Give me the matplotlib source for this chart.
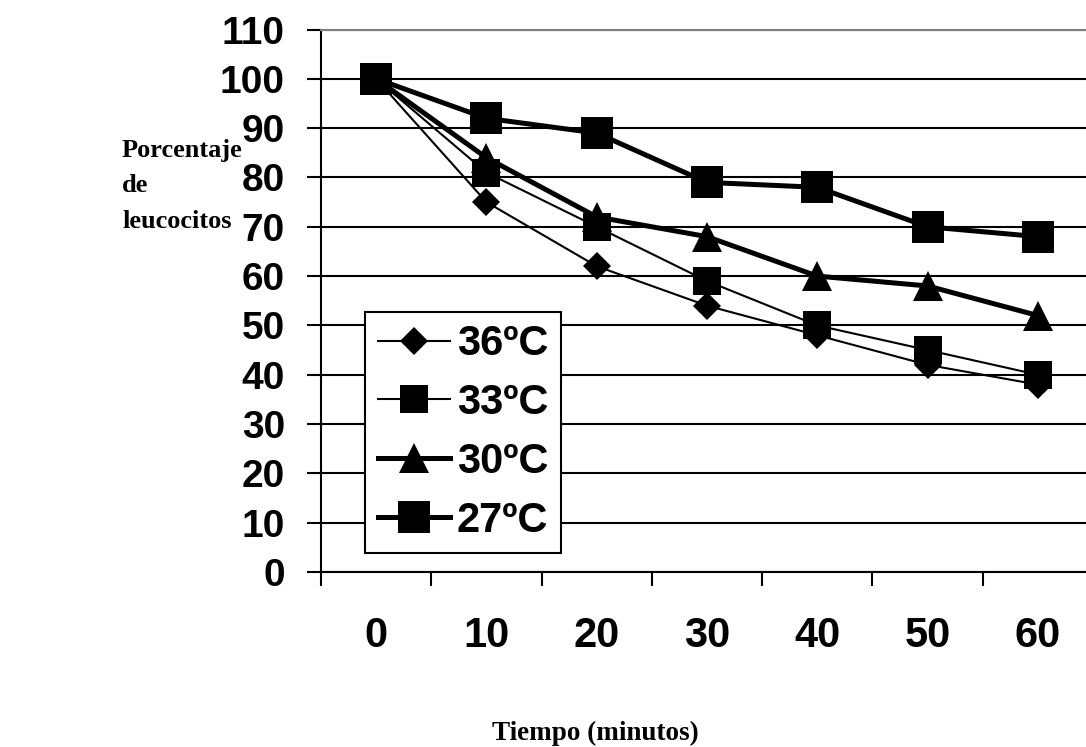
import matplotlib
matplotlib.use("Agg")
import matplotlib.pyplot as plt
import numpy as np

categories = ["0", "10", "20", "30", "40", "50", "60"]
s36 = [100, 75, 62, 54, 48, 42, 38]
s33 = [100, 81, 70, 59, 50, 45, 40]
s30 = [100, 84, 72, 68, 60, 58, 52]
s27 = [100, 92, 89, 79, 78, 70, 68]
labels = ["36ºC", "33ºC", "30ºC", "27ºC"]
yticks = list(range(0, 111, 10))

W, H = 1086, 747
fig = plt.figure(figsize=(W / 100, H / 100), dpi=100)
ax = fig.add_axes([321 / W, 1 - 572 / H, (1093 - 321) / W, (572 - 29.5) / H])

x = np.arange(len(categories))
series = [s36, s33, s30, s27]
styles = [
    dict(marker="D", lw=1.5, ms=14.5),
    dict(marker="s", lw=1.5, ms=20),
    dict(marker="^", lw=3.6, ms=21.5),
    dict(marker="s", lw=3.6, ms=23),
]
for vals, lab, st in zip(series, labels, styles):
    ax.plot(x, vals, color="black", marker=st["marker"], lw=st["lw"], ms=st["ms"],
            mew=0, mfc="black", label=lab, zorder=3, clip_on=False)

ax.set_xlim(-0.5, len(categories) - 0.5)
ax.set_ylim(0, 110)
ax.set_yticks(yticks)
ax.set_yticklabels([str(v) for v in yticks], fontsize=28, fontweight="bold",
                   family="Liberation Sans")
ax.yaxis.grid(True, color="black", lw=1.5)
ax.set_axisbelow(True)

ax.set_xticks(np.arange(-0.5, len(categories), 1.0))
ax.set_xticklabels([])
ax.set_xticks(x, minor=True)
ax.set_xticklabels(categories, minor=True, fontsize=30, fontweight="bold",
                   family="Liberation Sans")
ax.tick_params(axis="x", which="major", direction="out", length=10, width=1.5)
ax.tick_params(axis="x", which="minor", length=0, pad=32)
ax.tick_params(axis="y", direction="out", length=10, width=1.5, pad=16)

for side in ["left", "bottom"]:
    ax.spines[side].set_color("black")
    ax.spines[side].set_linewidth(1.5)
ax.spines["top"].set_color("#808080")
ax.spines["top"].set_linewidth(1.5)
ax.spines["right"].set_visible(False)

leg = ax.legend(loc="lower left", bbox_to_anchor=(365 / W, 1 - 553 / H),
                bbox_transform=fig.transFigure, frameon=True, fancybox=False,
                edgecolor="black", framealpha=1,
                prop={"family": "Liberation Sans", "weight": "bold", "size": 30},
                handlelength=1.73, handletextpad=0.17, labelspacing=0.45,
                borderpad=0.3, borderaxespad=0)
leg.get_frame().set_linewidth(1.5)

fig.text(122 / W, 1 - 186 / H, "Porcentaje\nde\nleucocitos", ha="left", va="center",
         family="Liberation Serif", fontweight="bold", fontsize=19, linespacing=1.7)
fig.text(595 / W, 1 - 721 / H, "Tiempo (minutos)", ha="center", va="top",
         family="Liberation Serif", fontweight="bold", fontsize=19.5)

fig.savefig("out.png", dpi=100)
